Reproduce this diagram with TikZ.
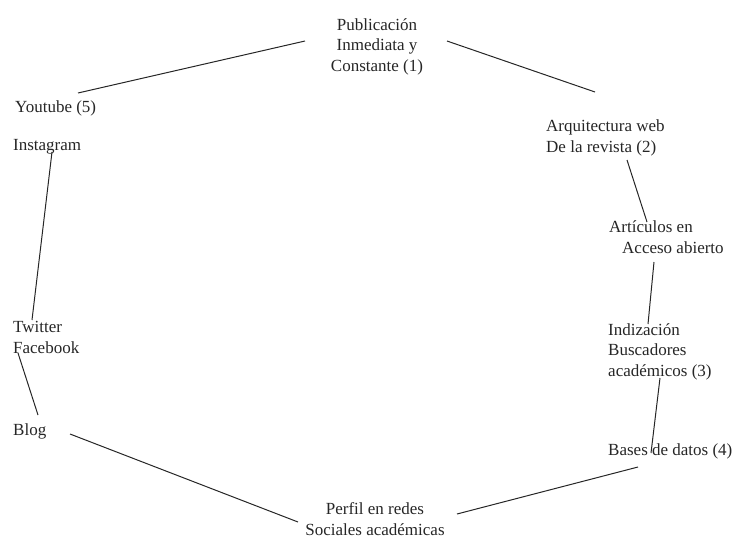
\documentclass[tikz,border=0pt]{standalone}
\usepackage{fontspec}
\setmainfont{Liberation Serif}

\def \linkdata {you.base west/63/-19/pub.base/-72/-30,pub.base/70/-30/arq.base west/49/-60,arq.base west/81/8/art.base west/38/-31,art.base west/45/9/ind.base west/40/-52,ind.base west/52/2/bas.base west/43/-2,bas.base west/30/12/per.base/82/-21,per.base/-77/-13/blog.base west/57/-1,blog.base west/25/-20/tw.base west/5/0,tw.base west/19/-33/ins.base west/39/2}

\begin{document}
\begin{tikzpicture}
   [x=1pt, y=-1pt,
   item/.style={draw=none,fill=none,inner sep=0pt,text=black!85,font=\fontsize{17}{20.5}\selectfont},
   leftitem/.style={item,align=left,anchor=base west},
   miditem/.style={item,align=center,anchor=base},
   link/.style={black!85,line width=1pt}]{
\useasboundingbox (0,0) rectangle (735,536);

% base = baseline of the last line
\node[miditem] (pub) at (377,71) {Publicación\\Inmediata y\\Constante (1)};
\node[leftitem] (arq) at (546,152) {Arquitectura web\\De la revista (2)};
\node[leftitem] (art) at (609,253) {Artículos en\\\hspace{13pt}Acceso abierto};
\node[leftitem] (ind) at (608,376) {Indización\\Buscadores\\académicos (3)};
\node[leftitem] (bas) at (608,455) {Bases de datos (4)};
\node[miditem] (per) at (375,535) {Perfil en redes\\Sociales académicas};
\node[leftitem] (blog) at (13,435) {Blog};
\node[leftitem] (tw) at (13,353) {Twitter\\Facebook};
\node[leftitem] (ins) at (13,150) {Instagram};
\node[leftitem] (you) at (15,112) {Youtube (5)};

\foreach \a / \ax / \ay / \b / \bx / \by in \linkdata {
   \draw[link] ([shift={(\ax,\ay)}]\a) -- ([shift={(\bx,\by)}]\b);}
};
\end{tikzpicture}
\end{document}
